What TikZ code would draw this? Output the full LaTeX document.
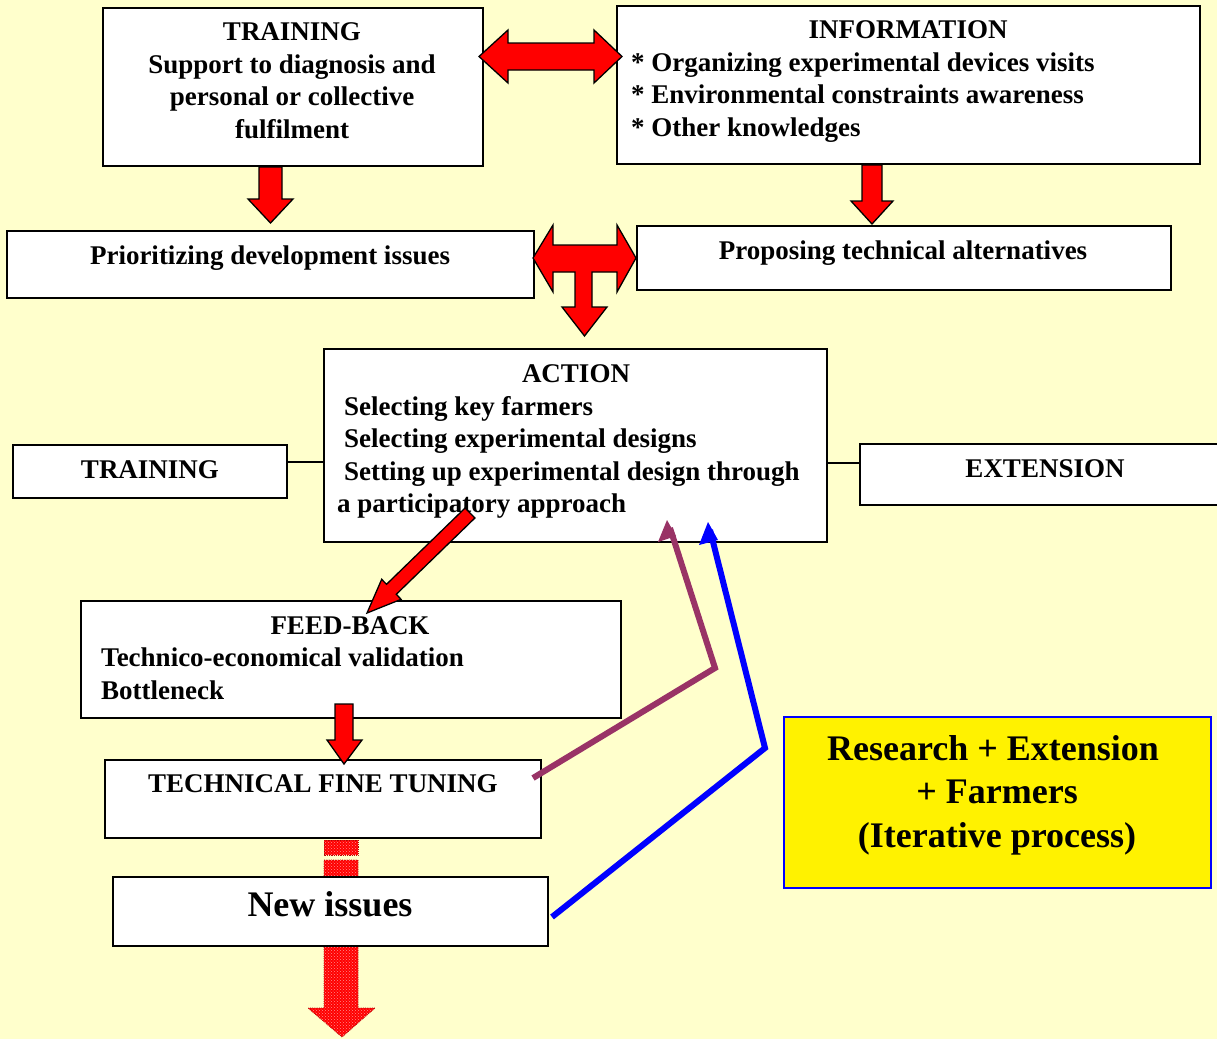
\documentclass[tikz,border=0pt]{standalone}
\usepackage{fontspec}
\setmainfont{Liberation Serif}
\usetikzlibrary{patterns}
\definecolor{bg}{HTML}{FFFFCC}
\definecolor{purp}{HTML}{993366}
\begin{document}
\begin{tikzpicture}[x=1pt,y=-1pt,
  box/.style={draw=black, fill=white, line width=1.3pt, inner sep=0pt},
  txt/.style={font=\fontsize{27}{32}\selectfont\bfseries, inner sep=0pt, anchor=base},
  txtl/.style={txt, anchor=base west},
  bigtxt/.style={font=\fontsize{36}{43}\selectfont\bfseries, inner sep=0pt, anchor=base},
  redarrow/.style={fill=red, draw=black, line width=1.3pt, line join=miter},
  texarrow/.style={fill=red, draw=red!70!black, densely dotted, line width=0.8pt},
  texfill/.style={pattern=crosshatch dots, pattern color=white!55!red},
  feedline/.style={line width=6pt, line join=miter}
]
\fill[bg] (0,0) rectangle (1217,1039);
\useasboundingbox (0,0) rectangle (1217,1039);

% textured arrow (behind boxes)
\draw[texarrow] (324,840) rectangle (358,855);
\fill[texfill] (324,840) rectangle (358,855);
\draw[texarrow] (324,860) -- (358,860) -- (358,1008) -- (375,1008) -- (342,1037) -- (308,1008) -- (324,1008) -- cycle;
\fill[texfill] (324,860) -- (358,860) -- (358,1008) -- (375,1008) -- (342,1037) -- (308,1008) -- (324,1008) -- cycle;

% boxes
\node[box, minimum width=380pt, minimum height=158pt] (trainT) at (293,87) {};
\node[box, minimum width=583pt, minimum height=158pt] (info) at (908.5,85) {};
\node[box, minimum width=527pt, minimum height=67pt] (prio) at (270.5,264.5) {};
\node[box, minimum width=534pt, minimum height=64pt] (prop) at (904,258) {};
\node[box, minimum width=503pt, minimum height=193pt] (action) at (575.5,445.5) {};
\node[box, minimum width=274pt, minimum height=53pt] (trainS) at (150,471.5) {};
\node[box, minimum width=380pt, minimum height=61pt] (ext) at (1050,474.5) {};
\node[box, minimum width=540pt, minimum height=117pt] (feed) at (351,659.5) {};
\node[box, minimum width=436pt, minimum height=78pt] (tech) at (323,799) {};
\node[box, minimum width=435pt, minimum height=69pt] (newi) at (330.5,911.5) {};
\node[draw=blue, fill=yellow, line width=1.8pt, inner sep=0pt, minimum width=427pt, minimum height=171pt] (res) at (997.5,802.5) {};

% side connectors
\coordinate (tsR) at (287,462);
\coordinate (acL) at (324,462);
\draw[line width=1.2pt] (tsR) -- (acL);
\coordinate (acR) at (827,463);
\coordinate (exL) at (860,463);
\draw[line width=1.2pt] (acR) -- (exL);

% texts
\node[txt] (t1) at (292,40) {TRAINING};
\node[txt] (t2) at (292,73) {Support to diagnosis and};
\node[txt] (t3) at (292,105) {personal or collective};
\node[txt] (t4) at (292,138) {fulfilment};

\node[txt] (i1) at (908,38) {INFORMATION};
\node[txtl] (i2) at (631,71) {* Organizing experimental devices visits};
\node[txtl] (i3) at (631,103) {* Environmental constraints awareness};
\node[txtl] (i4) at (631,136) {* Other knowledges};

\node[txt] (p1) at (270,264) {Prioritizing development issues};
\node[txt] (q1) at (903,259) {Proposing technical alternatives};

\node[txt] (a1) at (576,382) {ACTION};
\node[txtl] (a2) at (344,415) {Selecting key farmers};
\node[txtl] (a3) at (344,447) {Selecting experimental designs};
\node[txtl] (a4) at (344,480) {Setting up experimental design through};
\node[txtl] (a5) at (337,512) {a participatory approach};

\node[txt] (s1) at (150,478) {TRAINING};
\node[txt] (e1) at (1045,477) {EXTENSION};

\node[txt] (f1) at (350,634) {FEED-BACK};
\node[txtl] (f2) at (101,666) {Technico-economical validation};
\node[txtl] (f3) at (101,699) {Bottleneck};

\node[txt] (u1) at (323,792) {TECHNICAL FINE TUNING};
\node[bigtxt] (n1) at (330,916) {New issues};

\node[bigtxt] (r1) at (993,760) {Research + Extension};
\node[bigtxt] (r2) at (997,803) {+ Farmers};
\node[bigtxt] (r3) at (997,847) {(Iterative process)};

% red block arrows
\draw[redarrow] (479,56.5) -- (508,30) -- (508,43) -- (594,43) -- (594,30) -- (622,56.5)
  -- (594,83) -- (594,70) -- (508,70) -- (508,83) -- cycle;
\draw[redarrow] (259,167) -- (282,167) -- (282,199) -- (293,199) -- (270.5,223) -- (248,199) -- (259,199) -- cycle;
\draw[redarrow] (862,165) -- (882,165) -- (882,201) -- (893,201) -- (872,224) -- (851,201) -- (862,201) -- cycle;
\draw[redarrow] (533,258) -- (553,225) -- (553,245) -- (617,245) -- (617,225) -- (636,258)
  -- (617,292) -- (617,272) -- (592,272) -- (592,307) -- (607,307) -- (584.5,336)
  -- (562,307) -- (575,307) -- (575,272) -- (553,272) -- (553,292) -- cycle;
\draw[redarrow] (465.1,508) -- (386.5,584.3) -- (381.7,579.3) -- (367,613) -- (401.1,599.3)
  -- (396.3,594.3) -- (474.9,518) -- cycle;
\draw[redarrow] (335,704) -- (353,704) -- (353,740) -- (362,740) -- (344,764) -- (327,740) -- (335,740) -- cycle;

% feedback lines
\coordinate (pS) at (533,778);
\coordinate (pM) at (715,668);
\coordinate (pE) at (670,528);
\draw[feedline, purp] (pS) -- (pM) -- (pE);
\fill[purp] (667,520) -- (658,542) -- (676,536) -- cycle;
\coordinate (bS) at (552,917);
\coordinate (bM) at (765,748);
\coordinate (bE) at (710,530);
\draw[feedline, blue] (bS) -- (bM) -- (bE);
\fill[blue] (708,522) -- (699,545) -- (718,540) -- cycle;
\end{tikzpicture}
\end{document}
